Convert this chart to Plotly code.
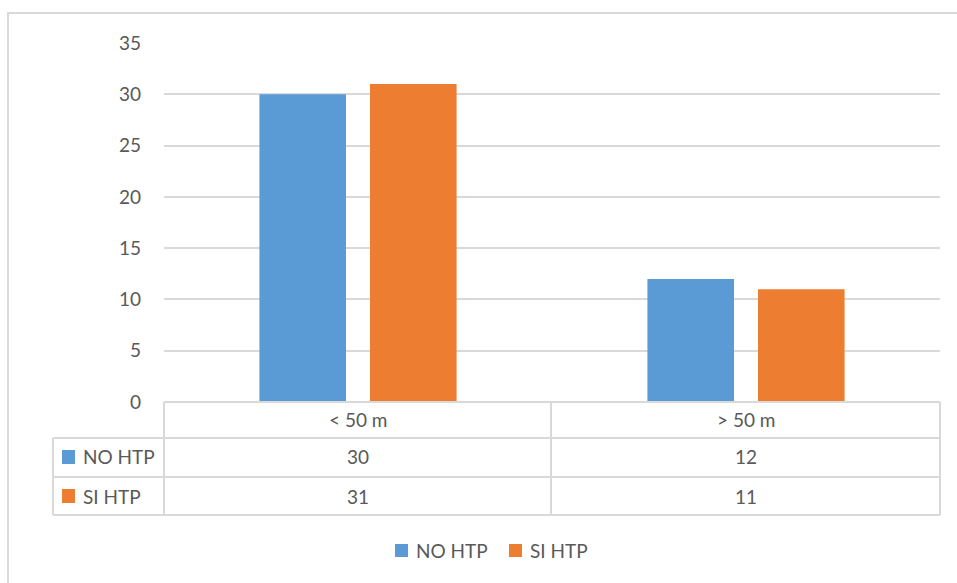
import plotly.graph_objects as go

# Chart data
categories = ["< 50 m", "> 50 m"]
series_names = ["NO HTP", "SI HTP"]
no_htp = [30, 12]
si_htp = [31, 11]
y_ticks = [0, 5, 10, 15, 20, 25, 30, 35]

colors = ["#5B9BD5", "#ED7D31"]
grid_color = "#D9D9D9"
text_color = "#595959"
font_family = "Lato, 'Open Sans', sans-serif"
font_size = 19

W, H = 957, 583
ML, MR, MT, MB = 164, 17, 43, 181
PW, PH = W - ML - MR, H - MT - MB


def px(x):
    return (x - ML) / PW


def py(y):
    return (H - MB - y) / PH


fig = go.Figure()
for name, vals, col in zip(series_names, [no_htp, si_htp], colors):
    fig.add_trace(go.Bar(x=categories, y=vals, name=name, showlegend=False,
                         marker=dict(color=col, line=dict(width=0))))

shapes = []
line = dict(color=grid_color, width=2)
# data table grid
for yy, x0 in [(402, 164), (438, 53), (477, 53), (515, 53)]:
    shapes.append(dict(type="line", xref="paper", yref="paper", x0=px(x0), x1=px(940),
                       y0=py(yy), y1=py(yy), line=line, layer="above"))
for xx, y0 in [(53, 438), (164, 402), (551, 402), (940, 402)]:
    shapes.append(dict(type="line", xref="paper", yref="paper", x0=px(xx), x1=px(xx),
                       y0=py(y0), y1=py(515), line=line, layer="above"))
# chart area border
shapes.append(dict(type="rect", xref="paper", yref="paper", x0=px(8), x1=px(975),
                   y0=py(620), y1=py(13), line=dict(color=grid_color, width=2), layer="below"))

annotations = []
col_centers = [357.5, 745.5]
row_centers = [457, 496]
for cat, cx in zip(categories, col_centers):
    annotations.append(dict(x=px(cx), y=py(420), xref="paper", yref="paper", text=cat,
                            showarrow=False, xanchor="center", yanchor="middle"))
for vals, cy in zip([no_htp, si_htp], row_centers):
    for v, cx in zip(vals, col_centers):
        annotations.append(dict(x=px(cx), y=py(cy), xref="paper", yref="paper", text=str(v),
                                showarrow=False, xanchor="center", yanchor="middle"))
# table row keys
for name, col, cy in zip(series_names, colors, row_centers):
    shapes.append(dict(type="rect", xref="paper", yref="paper", x0=px(62), x1=px(75),
                       y0=py(cy - 7), y1=py(cy + 7), fillcolor=col, line=dict(width=0)))
    annotations.append(dict(x=px(81), y=py(cy), xref="paper", yref="paper", text=name,
                            showarrow=False, xanchor="left", yanchor="middle"))

# legend below the table
legend_keys = [395, 509]
legend_y = 550.5
for name, col, lx in zip(series_names, colors, legend_keys):
    shapes.append(dict(type="rect", xref="paper", yref="paper", x0=px(lx), x1=px(lx + 13),
                       y0=py(legend_y - 6.5), y1=py(legend_y + 6.5), fillcolor=col,
                       line=dict(width=0)))
    annotations.append(dict(x=px(lx + 19), y=py(legend_y), xref="paper", yref="paper", text=name,
                            showarrow=False, xanchor="left", yanchor="middle"))

fig.update_layout(
    width=W, height=H,
    margin=dict(l=ML, r=MR, t=MT, b=MB),
    paper_bgcolor="white", plot_bgcolor="white",
    font=dict(family=font_family, size=font_size, color=text_color),
    barmode="group", bargap=0.43, bargroupgap=0.217,
    shapes=shapes, annotations=annotations,
    showlegend=False,
    xaxis=dict(showticklabels=False, showgrid=False, zeroline=False, showline=False, ticks=""),
    yaxis=dict(range=[0, 35], tickvals=y_ticks, showgrid=True, gridcolor=grid_color, gridwidth=2,
               zeroline=False, showline=False, ticks="", ticklabelstandoff=22),
)

fig.write_html("out.html")
